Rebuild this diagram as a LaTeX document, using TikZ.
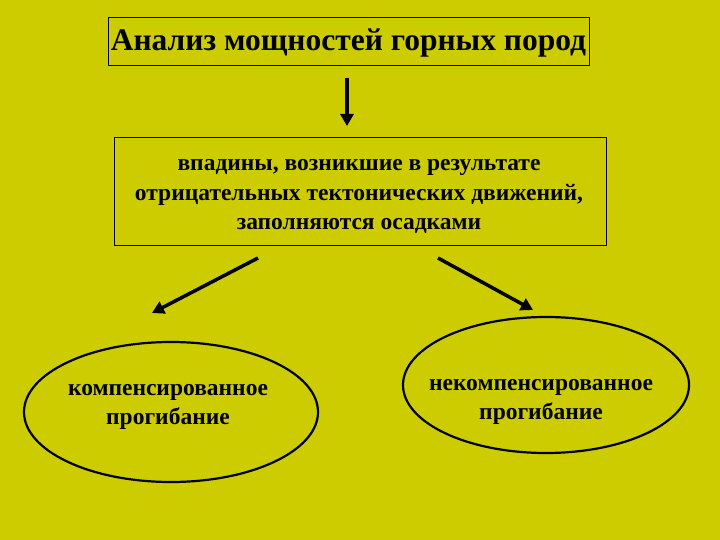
\documentclass[tikz,border=0pt]{standalone}
\usepackage{fontspec}
\setmainfont{Liberation Serif}
\usetikzlibrary{shapes.geometric,arrows.meta}
\definecolor{bg}{RGB}{204,204,0}
\begin{document}
\begin{tikzpicture}[x=1pt,y=-1pt,
  boxs/.style={draw,line width=1pt,inner sep=0pt},
  ell/.style={draw,ellipse,line width=2.2pt,inner sep=0pt},
  arr/.style={line width=3.5pt,-{Triangle[length=12pt,width=13pt]}},
  txt/.style={font=\bfseries\fontsize{23.5}{29.5}\selectfont,align=center}]
\fill[bg] (0,0) rectangle (720,540);
\useasboundingbox (0,0) rectangle (720,540);
\node[boxs,minimum width=481pt,minimum height=48pt] (t) at (348.5,42) {};
\node[font=\bfseries\fontsize{31.5}{36}\selectfont] (tt) at (348.5,43) {Анализ мощностей горных пород};
\node[boxs,minimum width=492pt,minimum height=107pt] (m) at (360,191.5) {};
\node[txt] (mt) at (359,197) {впадины, возникшие в результате\\отрицательных тектонических движений,\\заполняются осадками};
\node[ell,minimum width=294pt,minimum height=140pt] (l) at (171,412) {};
\node[txt] (lt) at (168,407) {компенсированное\\прогибание};
\node[ell,minimum width=286pt,minimum height=136pt] (r) at (546,385) {};
\node[txt] (rt) at (541,402) {некомпенсированное\\прогибание};
\coordinate (a1) at (347,78); \coordinate (a2) at (347,126);
\coordinate (b1) at (258,258); \coordinate (b2) at (152,313);
\coordinate (c1) at (438,258); \coordinate (c2) at (533,310);
\draw[arr] (a1) -- (a2);
\draw[arr] (b1) -- (b2);
\draw[arr] (c1) -- (c2);
\end{tikzpicture}
\end{document}
